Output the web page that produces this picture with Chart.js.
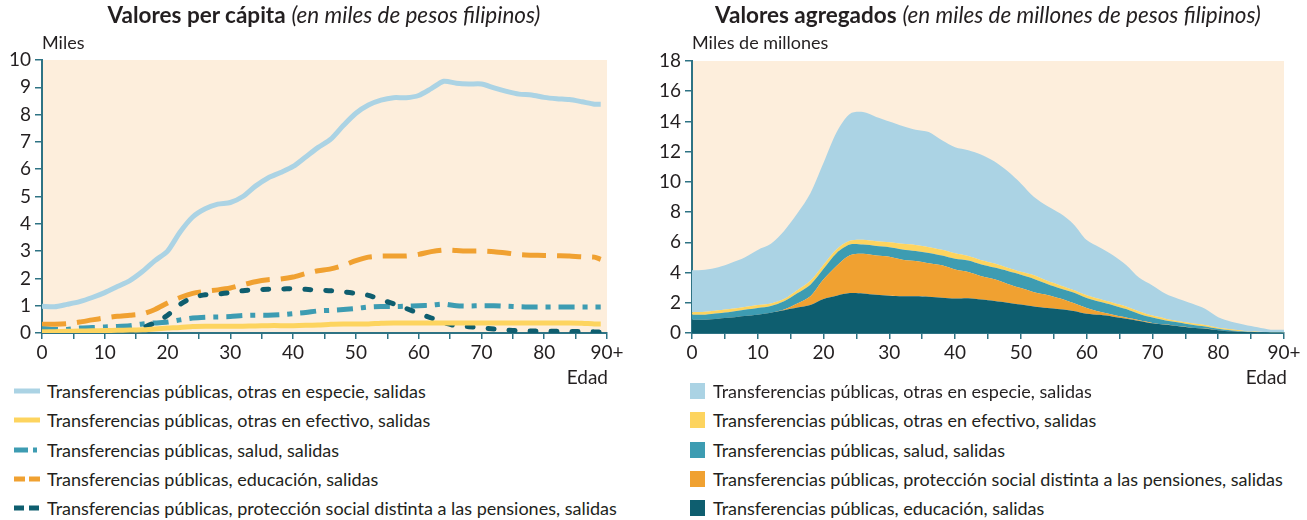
<!DOCTYPE html>
<html><head><meta charset="utf-8">
<script src="https://cdn.jsdelivr.net/npm/chart.js@4.4.1/dist/chart.umd.min.js"></script>
<style>
body{margin:0;background:#fff;width:1307px;height:520px;overflow:hidden;font-family:Lato, sans-serif;color:#231f20}
#wrap{position:relative;width:1307px;height:520px}
canvas{position:absolute;top:0}
.t{position:absolute;white-space:nowrap}
.title{font-size:22.5px;top:1px;text-align:center;width:700px;line-height:27px}
.title b{font-weight:700}
.title i{font-style:italic;font-weight:400}
.unit{font-size:18px;top:31px;line-height:22px}
.edad{font-size:19px;top:365px;line-height:23px;text-align:right;width:80px}
.leg{position:absolute;font-size:18px;height:24px;line-height:24px;white-space:nowrap;display:flex;align-items:center}
.leg svg{margin-right:6px}
</style>
</head><body>
<div id="wrap">
<canvas id="c1" width="650" height="370" style="left:0"></canvas>
<canvas id="c2" width="657" height="370" style="left:650px"></canvas>
<div class="t title" style="left:-26px"><b>Valores per cápita</b> <i>(en miles de pesos filipinos)</i></div>
<div class="t title" style="left:638px"><b>Valores agregados</b> <i>(en miles de millones de pesos filipinos)</i></div>
<div class="t unit" style="left:42px">Miles</div>
<div class="t unit" style="left:692px">Miles de millones</div>
<div class="t edad" style="left:528px">Edad</div>
<div class="t edad" style="left:1207px">Edad</div>
<div id="leg1"></div>
<div id="leg2"></div>
</div>
<script>
// ---- Data: per-capita (thousands of pesos) ----
const agesPC = [0,2,4,6,8,10,12,14,16,18,20,22,24,26,28,30,32,34,36,38,40,42,44,46,48,50,52,54,56,58,60,62,64,66,68,70,72,74,76,78,80,82,84,86,88,89];
const especiePC = [0.98,0.96,1.05,1.15,1.30,1.48,1.70,1.92,2.25,2.65,3.00,3.70,4.25,4.55,4.72,4.78,5.00,5.38,5.68,5.88,6.10,6.45,6.80,7.10,7.60,8.05,8.35,8.53,8.62,8.62,8.70,8.95,9.22,9.15,9.12,9.12,8.98,8.85,8.75,8.72,8.63,8.58,8.55,8.47,8.38,8.38];
const efectivoPC = [0.05,0.05,0.06,0.07,0.08,0.09,0.10,0.11,0.12,0.15,0.18,0.20,0.24,0.25,0.25,0.25,0.25,0.26,0.27,0.27,0.27,0.28,0.29,0.32,0.33,0.33,0.33,0.36,0.37,0.37,0.37,0.37,0.37,0.37,0.37,0.37,0.37,0.37,0.37,0.37,0.37,0.37,0.37,0.36,0.33,0.33];
const saludPC = [0.16,0.13,0.13,0.18,0.20,0.22,0.24,0.27,0.33,0.37,0.40,0.48,0.55,0.58,0.59,0.60,0.64,0.65,0.65,0.67,0.71,0.75,0.81,0.83,0.86,0.90,0.95,0.97,0.97,0.98,1.00,1.02,1.06,1.00,0.99,1.00,1.00,0.98,0.96,0.95,0.95,0.95,0.95,0.95,0.95,0.95];
const educacionPC = [0.32,0.32,0.34,0.40,0.48,0.55,0.61,0.65,0.70,0.86,1.10,1.30,1.45,1.53,1.58,1.65,1.77,1.88,1.95,1.98,2.05,2.18,2.28,2.35,2.48,2.65,2.78,2.82,2.82,2.82,2.88,2.98,3.04,3.02,3.00,3.00,2.98,2.93,2.87,2.85,2.84,2.83,2.82,2.79,2.78,2.70];
const proteccionPC = [0.04,0.02,0.01,0.00,0.00,0.00,0.01,0.04,0.19,0.38,0.65,1.05,1.30,1.40,1.43,1.48,1.55,1.59,1.60,1.61,1.62,1.60,1.57,1.55,1.51,1.45,1.38,1.22,1.07,0.90,0.72,0.55,0.38,0.26,0.23,0.19,0.15,0.11,0.08,0.07,0.07,0.06,0.05,0.06,0.04,0.03];

// ---- Data: aggregate (billions of pesos) ----
const agesAgg = [0,2,4,6,8,10,12,14,16,18,20,22,24,26,28,30,32,34,36,38,40,42,44,46,48,50,52,54,56,58,60,62,64,66,68,70,72,74,76,78,80,82,84,86,88,90];
const educacionAgg = [0.88,0.88,0.95,1.02,1.12,1.21,1.34,1.50,1.68,1.85,2.25,2.47,2.64,2.62,2.53,2.46,2.43,2.43,2.40,2.33,2.28,2.30,2.21,2.12,2.01,1.88,1.75,1.65,1.57,1.46,1.28,1.20,1.08,0.95,0.80,0.64,0.54,0.45,0.34,0.28,0.19,0.11,0.06,0.03,0.02,0.01];
const proteccionAgg = [0,0,0,0,0,0,0,0.05,0.27,0.58,1.30,1.98,2.51,2.63,2.60,2.59,2.42,2.34,2.22,2.15,1.92,1.74,1.55,1.43,1.24,1.09,0.95,0.87,0.71,0.52,0.38,0.20,0.12,0.07,0.04,0.03,0.02,0.01,0.01,0.01,0,0,0,0,0,0];
const saludAgg = [0.33,0.33,0.35,0.39,0.42,0.45,0.45,0.55,0.68,0.77,0.70,0.85,0.70,0.60,0.63,0.63,0.68,0.66,0.68,0.65,0.72,0.76,0.78,0.78,0.85,0.88,0.88,0.73,0.67,0.70,0.66,0.67,0.64,0.56,0.42,0.35,0.27,0.24,0.20,0.14,0.09,0.06,0.04,0.03,0.01,0.01];
const efectivoAgg = [0.16,0.19,0.20,0.19,0.18,0.19,0.17,0.15,0.20,0.25,0.26,0.25,0.25,0.32,0.31,0.32,0.37,0.39,0.38,0.38,0.36,0.30,0.28,0.27,0.22,0.20,0.24,0.20,0.20,0.17,0.18,0.18,0.16,0.17,0.16,0.13,0.12,0.08,0.10,0.10,0.07,0.08,0.04,0.03,0.02,0.02];
const especieAgg = [2.78,2.79,2.85,3.05,3.28,3.65,3.94,4.50,5.07,5.80,6.75,7.75,8.40,8.45,8.23,8.00,7.80,7.63,7.62,7.24,7.02,7.00,6.98,6.75,6.38,5.85,5.18,4.95,4.75,4.35,3.65,3.40,3.15,2.75,2.23,2.00,1.65,1.47,1.30,1.07,0.70,0.50,0.41,0.29,0.17,0.18];

const xTicksEvery = 5;
const xLabelsEvery = 10;

const labels = {
  especie: 'Transferencias públicas, otras en especie, salidas',
  efectivo: 'Transferencias públicas, otras en efectivo, salidas',
  salud: 'Transferencias públicas, salud, salidas',
  educacion: 'Transferencias públicas, educación, salidas',
  proteccion: 'Transferencias públicas, protección social distinta a las pensiones, salidas'
};

const C = {lightblue:'#abd3e4', yellow:'#fdd45f', teal:'#3d9cb2', orange:'#f0a131', dark:'#0e5e6f'};
const axisColor = '#2e7384';
const textColor = '#231f20';
const peach = '#fdeedc';

Chart.defaults.font.family = 'Lato, sans-serif';
Chart.defaults.color = textColor;

const bgPlugin = {id:'bg', beforeDraw(c){const {ctx, chartArea:a} = c; ctx.save(); ctx.fillStyle = peach; ctx.fillRect(a.left, a.top, a.right-a.left, a.bottom-a.top); ctx.restore();}};

function xScale(){
  return {type:'linear', min:0, max:90,
    ticks:{stepSize:xTicksEvery, autoSkip:false, maxRotation:0, padding:2, color:textColor, font:{size:19},
      callback:v => (v % xLabelsEvery === 0) ? (v === 90 ? '90+' : String(v)) : ''},
    grid:{drawOnChartArea:false, drawTicks:true, tickLength:6, color:axisColor, lineWidth:1.5},
    border:{display:true, color:axisColor, width:2},
    afterFit:s => { s.height = 37; }
  };
}
function yScale(max, step, stacked){
  return {min:0, max:max, stacked:!!stacked,
    ticks:{stepSize:step, padding:4, color:textColor, font:{size:19}},
    grid:{drawOnChartArea:false, drawTicks:true, tickLength:7, color:axisColor, lineWidth:1.5},
    border:{display:true, color:axisColor, width:2},
    afterFit:s => { s.width = 42; }
  };
}
const pts = (xs, ys) => xs.map((x,i) => ({x:x, y:ys[i]}));

const lineBase = {pointRadius:0, borderWidth:5, fill:false, tension:0.25};

new Chart(document.getElementById('c1'), {
  type:'line',
  data:{datasets:[
    Object.assign({}, lineBase, {label:labels.efectivo, data:pts(agesPC, efectivoPC), borderColor:C.yellow}),
    Object.assign({}, lineBase, {label:labels.proteccion, data:pts(agesPC, proteccionPC), borderColor:C.dark, borderDash:[6,15], borderCapStyle:'round'}),
    Object.assign({}, lineBase, {label:labels.salud, data:pts(agesPC, saludPC), borderColor:C.teal, borderDash:[16,8,5,8]}),
    Object.assign({}, lineBase, {label:labels.educacion, data:pts(agesPC, educacionPC), borderColor:C.orange, borderDash:[24,11]}),
    Object.assign({}, lineBase, {label:labels.especie, data:pts(agesPC, especiePC), borderColor:C.lightblue})
  ]},
  options:{responsive:false, animation:false, devicePixelRatio:1,
    layout:{padding:{top:60, right:43, left:0, bottom:0}},
    plugins:{legend:{display:false}, tooltip:{enabled:false}},
    scales:{x:xScale(), y:yScale(10,1)}
  },
  plugins:[bgPlugin]
});

const areaBase = {pointRadius:0, borderWidth:0, tension:0.3};
new Chart(document.getElementById('c2'), {
  type:'line',
  data:{datasets:[
    Object.assign({}, areaBase, {label:labels.educacion, data:pts(agesAgg, educacionAgg), backgroundColor:C.dark, borderColor:C.dark, fill:'origin'}),
    Object.assign({}, areaBase, {label:labels.proteccion, data:pts(agesAgg, proteccionAgg), backgroundColor:C.orange, borderColor:C.orange, fill:'-1'}),
    Object.assign({}, areaBase, {label:labels.salud, data:pts(agesAgg, saludAgg), backgroundColor:C.teal, borderColor:C.teal, fill:'-1'}),
    Object.assign({}, areaBase, {label:labels.efectivo, data:pts(agesAgg, efectivoAgg), backgroundColor:C.yellow, borderColor:C.yellow, fill:'-1'}),
    Object.assign({}, areaBase, {label:labels.especie, data:pts(agesAgg, especieAgg), backgroundColor:C.lightblue, borderColor:C.lightblue, fill:'-1'})
  ]},
  options:{responsive:false, animation:false, devicePixelRatio:1,
    layout:{padding:{top:61, right:23, left:0, bottom:0}},
    plugins:{legend:{display:false}, tooltip:{enabled:false}},
    scales:{x:xScale(), y:yScale(18,2,true)}
  },
  plugins:[bgPlugin]
});

// ---- HTML legends ----
const rowTops = [379, 408, 438, 467, 496];
function svgLine(color, dash){
  return '<svg width="28" height="10"><line x1="1" y1="5" x2="27" y2="5" stroke="'+color+'" stroke-width="5" stroke-dasharray="'+dash+'"/></svg>';
}
const leg1 = [
  [svgLine(C.lightblue,'none'), labels.especie],
  [svgLine(C.yellow,'none'), labels.efectivo],
  [svgLine(C.teal,'14 5 4 20'), labels.salud],
  [svgLine(C.orange,'11 4 11 10'), labels.educacion],
  [svgLine(C.dark,'10 5 10 10'), labels.proteccion]
];
const leg2 = [
  [C.lightblue, labels.especie],
  [C.yellow, labels.efectivo],
  [C.teal, labels.salud],
  [C.orange, labels.proteccion],
  [C.dark, labels.educacion]
];
let h1 = '', h2 = '';
leg1.forEach((r,i) => { h1 += '<div class="leg" style="left:13px;top:'+rowTops[i]+'px">'+r[0]+'<span>'+r[1]+'</span></div>'; });
leg2.forEach((r,i) => { h2 += '<div class="leg" style="left:690px;top:'+rowTops[i]+'px"><span style="display:inline-block;width:15px;height:16px;background:'+r[0]+';margin-right:8px"></span><span>'+r[1]+'</span></div>'; });
document.getElementById('leg1').innerHTML = h1;
document.getElementById('leg2').innerHTML = h2;
</script>
</body></html>
